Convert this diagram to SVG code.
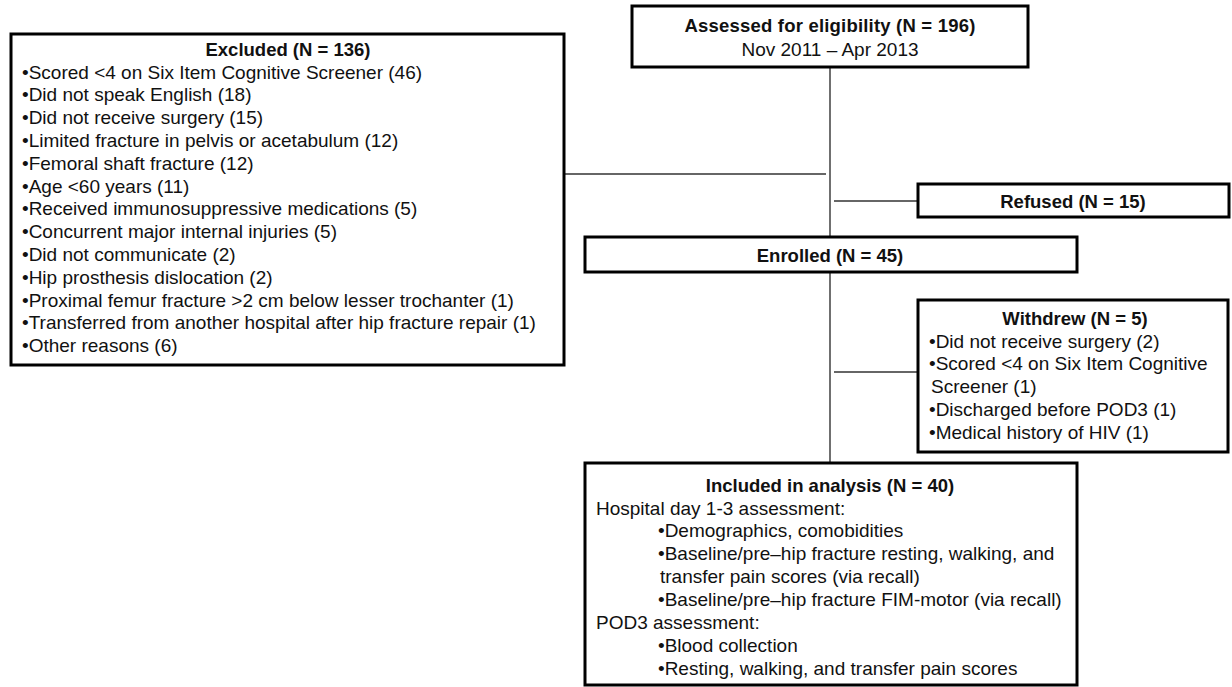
<svg xmlns="http://www.w3.org/2000/svg" width="1232" height="687" viewBox="0 0 1232 687">
<style>
.box{fill:#fff;stroke:#000;stroke-width:3}
.ln{stroke:#333;stroke-width:1.4;fill:none}
text{font-family:"Liberation Sans",Arial,sans-serif;font-size:19px;fill:#111}
.b{font-weight:bold;font-size:18.5px}
.c{text-anchor:middle}
</style>
<rect width="1232" height="687" fill="#fff"/>
<g id="connectors">
<line class="ln" x1="830" y1="67" x2="830" y2="463"/>
<line class="ln" x1="564" y1="174" x2="826" y2="174"/>
<line class="ln" x1="834" y1="201" x2="918" y2="201"/>
<line class="ln" x1="834" y1="372" x2="918" y2="372"/>
</g>
<g id="assessed">
<rect class="box" x="632" y="6" width="396" height="61"/>
<text class="b c" x="830" y="32" letter-spacing="0.2">Assessed for eligibility (N = 196)</text>
<text class="c" x="830" y="56">Nov 2011 – Apr 2013</text>
</g>
<g id="excluded">
<rect class="box" x="11" y="34" width="553" height="331"/>
<text class="b c" x="288" y="56">Excluded (N = 136)</text>
<text x="22" y="78.5">•Scored &lt;4 on Six Item Cognitive Screener (46)</text>
<text x="22" y="101.3">•Did not speak English (18)</text>
<text x="22" y="124.1">•Did not receive surgery (15)</text>
<text x="22" y="146.9">•Limited fracture in pelvis or acetabulum (12)</text>
<text x="22" y="169.7">•Femoral shaft fracture (12)</text>
<text x="22" y="192.5">•Age &lt;60 years (11)</text>
<text x="22" y="215.3">•Received immunosuppressive medications (5)</text>
<text x="22" y="238.1">•Concurrent major internal injuries (5)</text>
<text x="22" y="260.9">•Did not communicate (2)</text>
<text x="22" y="283.7">•Hip prosthesis dislocation (2)</text>
<text x="22" y="306.5">•Proximal femur fracture &gt;2 cm below lesser trochanter (1)</text>
<text x="22" y="329.3">•Transferred from another hospital after hip fracture repair (1)</text>
<text x="22" y="352.1">•Other reasons (6)</text>
</g>
<g id="refused">
<rect class="box" x="918" y="184" width="311" height="33"/>
<text class="b c" x="1073" y="207.5">Refused (N = 15)</text>
</g>
<g id="enrolled">
<rect class="box" x="585" y="237" width="492" height="35"/>
<text class="b c" x="830" y="261.5">Enrolled (N = 45)</text>
</g>
<g id="withdrew">
<rect class="box" x="918" y="300" width="310" height="152"/>
<text class="b c" x="1075" y="325">Withdrew (N = 5)</text>
<text x="929" y="347.5">•Did not receive surgery (2)</text>
<text x="929" y="370">•Scored &lt;4 on Six Item Cognitive</text>
<text x="931" y="392.5">Screener (1)</text>
<text x="929" y="415.5">•Discharged before POD3 (1)</text>
<text x="929" y="438.5">•Medical history of HIV (1)</text>
</g>
<g id="included">
<rect class="box" x="585" y="463" width="492" height="222"/>
<text class="b c" x="830" y="491.5">Included in analysis (N = 40)</text>
<text x="596" y="514.5">Hospital day 1-3 assessment:</text>
<text x="658" y="537">•Demographics, comobidities</text>
<text x="658" y="559.5">•Baseline/pre–hip fracture resting, walking, and</text>
<text x="660" y="583">transfer pain scores (via recall)</text>
<text x="658" y="606">•Baseline/pre–hip fracture FIM-motor (via recall)</text>
<text x="596" y="629">POD3 assessment:</text>
<text x="658" y="651.5">•Blood collection</text>
<text x="658" y="674.5">•Resting, walking, and transfer pain scores</text>
</g>
</svg>
